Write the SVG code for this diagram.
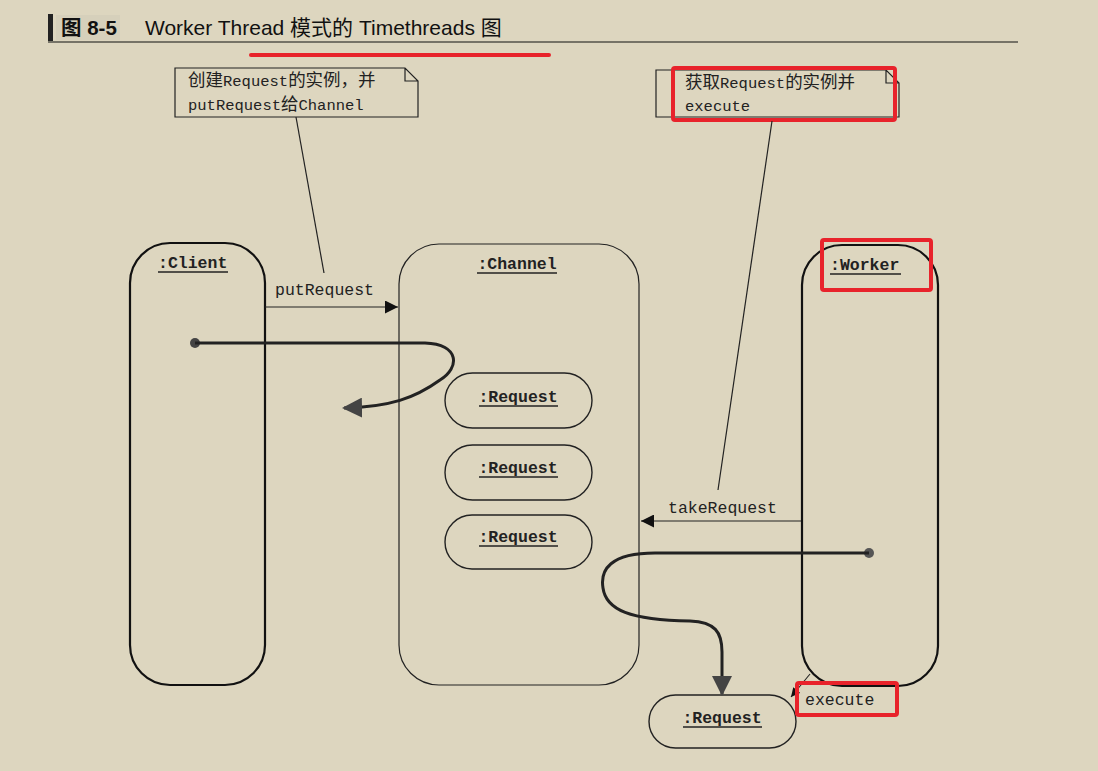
<svg xmlns="http://www.w3.org/2000/svg" width="1098" height="771" viewBox="0 0 1098 771">
<defs>
<style>
.mono{font-family:"Liberation Mono","Noto Sans CJK SC",monospace;fill:#222}
.cjk{font-family:"Noto Sans CJK SC",sans-serif;font-size:17.5px}
.b{font-weight:bold}
.box{fill:none;stroke:#111;stroke-width:2.2}
.pill{fill:none;stroke:#222;stroke-width:1.4}
.note{fill:none;stroke:#222;stroke-width:1.2}
.thin{fill:none;stroke:#222;stroke-width:1.2}
.thick{fill:none;stroke:#222;stroke-width:3}
.red{fill:none;stroke:#e8232b;stroke-width:4}
.ul{stroke:#222;stroke-width:1.3}
</style>
<marker id="arr" viewBox="0 0 10 10" refX="10" refY="5" markerWidth="18" markerHeight="13" markerUnits="userSpaceOnUse" orient="auto"><path d="M0,0 L10,5 L0,10 Z" fill="#111"/></marker>
<marker id="arrBig" viewBox="0 0 10 10" refX="9" refY="5" markerWidth="20" markerHeight="20" markerUnits="userSpaceOnUse" orient="auto"><path d="M0,0 L10,5 L0,10 Z" fill="#444"/></marker>
<marker id="arrSm" viewBox="0 0 10 10" refX="10" refY="5" markerWidth="10" markerHeight="9" markerUnits="userSpaceOnUse" orient="auto"><path d="M0,0 L10,5 L0,10 Z" fill="#111"/></marker>
</defs>
<rect width="1098" height="771" fill="#ddd6bf"/>
<g id="title">
<rect x="48" y="14" width="5" height="27" fill="#222"/>
<rect x="56" y="15" width="64" height="25" fill="#d6d0bb"/>
<text x="61" y="35" font-family="Liberation Sans,'Noto Sans CJK SC',sans-serif" font-size="20.5" font-weight="bold" fill="#111">图 8-5</text>
<text x="145" y="35" font-family="Liberation Sans,'Noto Sans CJK SC',sans-serif" font-size="21" fill="#111">Worker Thread 模式的 Timethreads 图</text>
<line x1="48" y1="42" x2="1018" y2="42" stroke="#111" stroke-width="1.2"/>
<line x1="251" y1="55" x2="549" y2="55" stroke="#e8232b" stroke-width="4" stroke-linecap="round"/>
</g>
<g id="note1">
<path class="note" d="M175,68 H405 L418,81 V117 H175 Z M405,68 V81 H418"/>
<text class="mono" x="188" y="86" font-size="15.5"><tspan class="cjk">创建</tspan>Request<tspan class="cjk">的实例，并</tspan></text>
<text class="mono" x="188" y="110" font-size="15.5">putRequest<tspan class="cjk">给</tspan>Channel</text>
</g>
<g id="note2">
<path class="note" d="M656,70 H886 L899,83 V117 H656 Z M886,70 V83 H899"/>
<text class="mono" x="685" y="88" font-size="15.5"><tspan class="cjk">获取</tspan>Request<tspan class="cjk">的实例并</tspan></text>
<text class="mono" x="685" y="111" font-size="15.5">execute</text>
<rect class="red" x="673" y="68" width="222" height="52" rx="2"/>
</g>
<g id="client">
<rect class="box" x="130" y="243" width="135" height="442" rx="40"/>
<text class="mono b" x="158" y="268" font-size="16.5">:Client</text>
<line class="ul" x1="158" y1="272" x2="228" y2="272"/>
</g>
<g id="channel">
<rect class="thin" x="399" y="244" width="240" height="441" rx="40"/>
<text class="mono b" x="517" y="269" font-size="16.5" text-anchor="middle">:Channel</text>
<line class="ul" x1="477" y1="273" x2="557" y2="273"/>
</g>
<g id="worker">
<rect class="box" x="802" y="245" width="136" height="441" rx="40"/>
<text class="mono b" x="830" y="270" font-size="16.5">:Worker</text>
<line class="ul" x1="830" y1="274" x2="901" y2="274"/>
<rect class="red" x="822" y="240" width="109" height="50" rx="2"/>
</g>
<g id="request1">
<rect class="pill" x="445" y="373" width="147" height="55" rx="27.5"/>
<text class="mono b" x="518" y="402" font-size="16.5" text-anchor="middle">:Request</text>
<line class="ul" x1="479" y1="406" x2="558" y2="406"/>
</g>
<g id="request2">
<rect class="pill" x="445" y="445" width="147" height="55" rx="27.5"/>
<text class="mono b" x="518" y="473" font-size="16.5" text-anchor="middle">:Request</text>
<line class="ul" x1="479" y1="477" x2="558" y2="477"/>
</g>
<g id="request3">
<rect class="pill" x="445" y="515" width="147" height="54" rx="27"/>
<text class="mono b" x="518" y="542" font-size="16.5" text-anchor="middle">:Request</text>
<line class="ul" x1="479" y1="546" x2="558" y2="546"/>
</g>
<g id="request4">
<rect class="pill" x="649" y="695" width="147" height="53" rx="26.5"/>
<text class="mono b" x="722" y="723" font-size="16.5" text-anchor="middle">:Request</text>
<line class="ul" x1="683" y1="727" x2="762" y2="727"/>
</g>
<g id="connectors">
<line class="thin" x1="296" y1="117" x2="324" y2="273"/>
<line class="thin" x1="772" y1="121" x2="718" y2="490"/>
<line class="thin" x1="265" y1="307" x2="398" y2="307" marker-end="url(#arr)"/>
<text class="mono" x="275" y="295" font-size="16.5">putRequest</text>
<line class="thin" x1="801" y1="521" x2="641" y2="521" marker-end="url(#arr)"/>
<text class="mono" x="668" y="513" font-size="16.5">takeRequest</text>
<circle cx="195" cy="343" r="5" fill="#444"/>
<path class="thick" d="M195,343 H425 C460,344 460,368 440,380 C415,398 390,407 344,408" marker-end="url(#arrBig)"/>
<circle cx="869" cy="553" r="5" fill="#555"/>
<path class="thick" d="M869,553 H655 C610,553 600,570 603,588 C606,610 630,620 690,621 C715,622 722,632 722,652 V694" marker-end="url(#arrBig)"/>
<line x1="810" y1="674" x2="791" y2="697" stroke="#222" stroke-width="1.1" marker-end="url(#arrSm)"/>
<text class="mono" x="805" y="705" font-size="16.5">execute</text>
<rect class="red" x="797" y="683" width="100" height="32" rx="2"/>
</g>
</svg>
